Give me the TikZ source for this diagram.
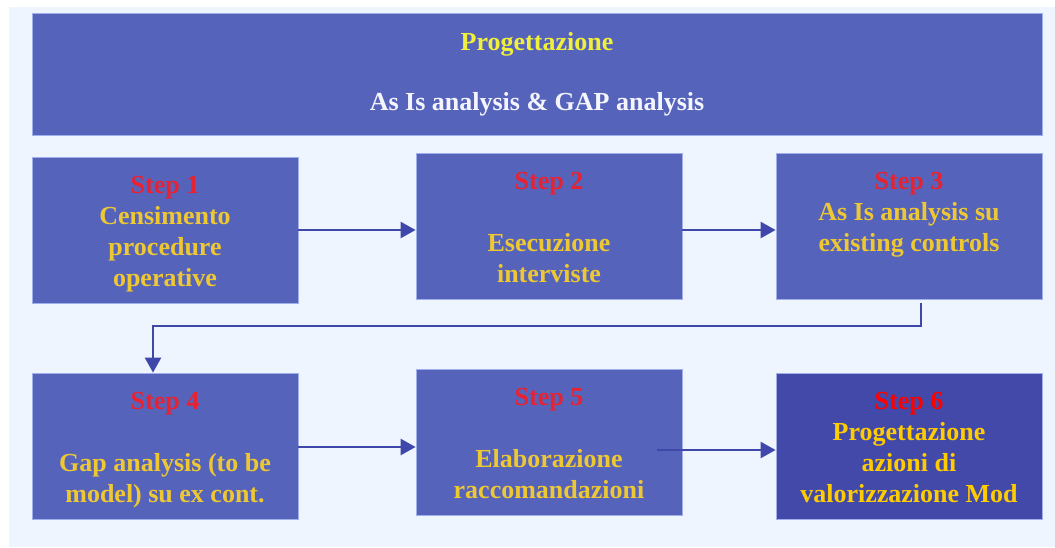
\documentclass[tikz,border=0pt]{standalone}
\usepackage{fontspec}
\setmainfont{Liberation Serif}
\usetikzlibrary{arrows.meta}
\definecolor{bgc}{RGB}{238,245,254}
\definecolor{boxc}{RGB}{86,99,186}
\definecolor{boxd}{RGB}{66,73,168}
\definecolor{edgec}{RGB}{160,174,234}
\definecolor{stepred}{RGB}{232,34,48}
\definecolor{stepredb}{RGB}{255,0,0}
\definecolor{txty}{RGB}{238,200,50}
\definecolor{txtyb}{RGB}{255,204,0}
\definecolor{heady}{RGB}{240,240,60}
\definecolor{headw}{RGB}{245,245,255}
\definecolor{arrc}{RGB}{63,72,170}
\newcommand\tstrut{\rule{0pt}{26pt}}
\newcommand\hstrut{\rule{0pt}{18pt}}
\newcommand\bstrut{\rule[-6pt]{0pt}{6pt}}
\begin{document}
\begin{tikzpicture}[x=1pt,y=-1pt,
  stepbox/.style={draw=edgec,line width=0.8pt,fill=boxc,minimum width=266pt,minimum height=146pt,
    align=center,inner sep=0pt,font=\fontsize{26}{31}\selectfont\bfseries,text=txty},
  headbox/.style={draw=edgec,line width=0.8pt,fill=boxc,minimum width=1010pt,minimum height=122pt,
    align=center,inner sep=0pt,font=\fontsize{26}{30}\selectfont\bfseries},
  conn/.style={draw=arrc,line width=2.5pt,-{Triangle[length=15pt,width=16pt]}}]
\useasboundingbox (0,0) rectangle (1055,547);
\fill[bgc] (9,7) rectangle (1055,547);
\node[headbox] (h) at (537,74) {\hstrut\textcolor{heady}{Progettazione}\\\strut\\\textcolor{headw}{As Is analysis \& GAP analysis}\bstrut};
\node[stepbox] (s1) at (165,230) {\tstrut\textcolor{stepred}{Step 1}\\Censimento\\procedure\\operative\bstrut};
\node[stepbox] (s2) at (549,226) {\tstrut\textcolor{stepred}{Step 2}\\\strut\\Esecuzione\\interviste\bstrut};
\node[stepbox] (s3) at (909,226) {\tstrut\textcolor{stepred}{Step 3}\\As Is analysis su\\existing controls\\\bstrut};
\node[stepbox] (s4) at (165,446) {\tstrut\textcolor{stepred}{Step 4}\\\strut\\Gap analysis (to be\\model) su ex cont.\bstrut};
\node[stepbox] (s5) at (549,442) {\tstrut\textcolor{stepred}{Step 5}\\\strut\\Elaborazione\\raccomandazioni\bstrut};
\node[stepbox,fill=boxd,text=txtyb] (s6) at (909,446) {\tstrut\textcolor{stepredb}{Step 6}\\Progettazione\\azioni di\\valorizzazione Mod\bstrut};
\draw[conn] (s1.east |- 0,230) -- (s2.west |- 0,230);
\draw[conn] (s2.east |- 0,230) -- (s3.west |- 0,230);
\coordinate (c1) at (921,303);
\coordinate (c2) at (153,326);
\draw[conn] (c1) |- (c2) -- (c2 |- s4.north);
\draw[conn] (s4.east |- 0,447) -- (s5.west |- 0,447);
\coordinate (c3) at (657,450);
\draw[conn] (c3) -- (c3 -| s6.west);
\end{tikzpicture}
\end{document}
